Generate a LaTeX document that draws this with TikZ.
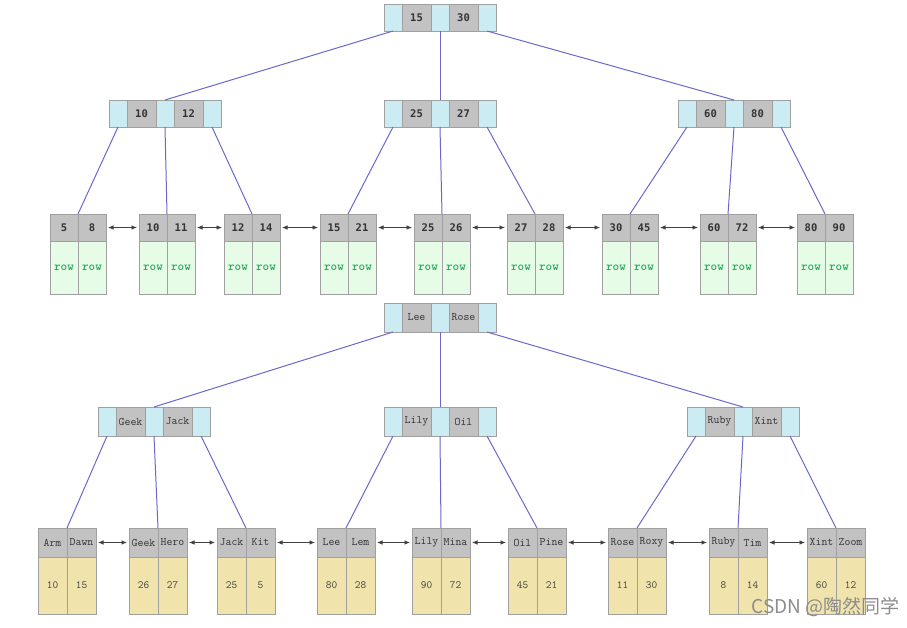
\documentclass[tikz,border=0pt]{standalone}
\usepackage{fontspec}
\newfontfamily\keyfont{DejaVu Sans Mono}
\newfontfamily\cjkfont{Noto Sans CJK SC}
\usetikzlibrary{arrows.meta}

\definecolor{ptrcyan}{RGB}{204,236,243}
\definecolor{keygray}{RGB}{194,194,194}
\definecolor{boxline}{RGB}{160,160,160}
\definecolor{rowgreen}{RGB}{230,252,230}
\definecolor{rowtext}{RGB}{40,170,90}
\definecolor{valyellow}{RGB}{240,228,172}
\definecolor{linkblue}{RGB}{105,105,205}

% inner node: name, top left corner, two keys
\newcommand{\innernode}[4]{%
  \node[ptr,anchor=north west] (#1-p0) at (#2) {};
  \node[key,anchor=north west] (#1-k1) at (#1-p0.north east) {#3};
  \node[ptr,anchor=north west] (#1-p1) at (#1-k1.north east) {};
  \node[key,anchor=north west] (#1-k2) at (#1-p1.north east) {#4};
  \node[ptr,anchor=north west] (#1-p2) at (#1-k2.north east) {};}

% leaf node: name, top left corner, two keys, two values
\newcommand{\leafnode}[6]{%
  \node[lkey,anchor=north west] (#1-k1) at (#2) {#3};
  \node[lkey,anchor=north west] (#1-k2) at (#1-k1.north east) {#4};
  \node[body,anchor=north] (#1-v1) at (#1-k1.south) {#5};
  \node[body,anchor=north] (#1-v2) at (#1-k2.south) {#6};}

\begin{document}
\begin{tikzpicture}[x=1pt,y=-1pt,
  cellh/.style={minimum height=27pt},
  keytext/.style={font=\keyfont\bfseries\fontsize{10.5}{12}\selectfont, text=black!80},
  cell/.style={draw=boxline, line width=0.7pt, inner sep=0pt, outer sep=0pt, cellh},
  ptr/.style={cell, fill=ptrcyan, minimum width=18pt},
  key/.style={cell, fill=keygray, minimum width=29pt, keytext},
  lkey/.style={cell, fill=keygray, minimum width=28pt, keytext},
  body/.style={draw=boxline, line width=0.7pt, inner sep=0pt, outer sep=0pt,
    minimum width=28pt, minimum height=53pt, fill=rowgreen, text=rowtext,
    font=\ttfamily\bfseries\fontsize{12.5}{14}\selectfont},
  link/.style={draw=linkblue, line width=1pt},
  chain/.style={draw=black!75, line width=0.7pt,
    {Latex[length=5.5pt,width=4.5pt]}-{Latex[length=5.5pt,width=4.5pt]},
    shorten <=2pt, shorten >=2pt}]
\useasboundingbox (0,0) rectangle (907,627);

% upper tree
\innernode{t}{384,4}{15}{30}
\innernode{t1}{109,100}{10}{12}
\innernode{t2}{384,100}{25}{27}
\innernode{t3}{678,100}{60}{80}

\leafnode{l1}{50,214}{5}{8}{row}{row}
\leafnode{l2}{139,214}{10}{11}{row}{row}
\leafnode{l3}{224,214}{12}{14}{row}{row}
\leafnode{l4}{320,214}{15}{21}{row}{row}
\leafnode{l5}{414,214}{25}{26}{row}{row}
\leafnode{l6}{507,214}{27}{28}{row}{row}
\leafnode{l7}{602,214}{30}{45}{row}{row}
\leafnode{l8}{700,214}{60}{72}{row}{row}
\leafnode{l9}{797,214}{80}{90}{row}{row}

\draw[link] (t-p0.south) -- (t1-p1.north);
\draw[link] (t-p1.south) -- (t2-p1.north);
\draw[link] (t-p2.south) -- (t3-p1.north);
\draw[link] (t1-p0.south) -- (l1-k1.north east);
\draw[link] (t1-p1.south) -- (l2-k1.north east);
\draw[link] (t1-p2.south) -- (l3-k1.north east);
\draw[link] (t2-p0.south) -- (l4-k1.north east);
\draw[link] (t2-p1.south) -- (l5-k1.north east);
\draw[link] (t2-p2.south) -- (l6-k1.north east);
\draw[link] (t3-p0.south) -- (l7-k1.north east);
\draw[link] (t3-p1.south) -- (l8-k1.north east);
\draw[link] (t3-p2.south) -- (l9-k1.north east);

\draw[chain] (l1-k2.east) -- (l2-k1.west);
\draw[chain] (l2-k2.east) -- (l3-k1.west);
\draw[chain] (l3-k2.east) -- (l4-k1.west);
\draw[chain] (l4-k2.east) -- (l5-k1.west);
\draw[chain] (l5-k2.east) -- (l6-k1.west);
\draw[chain] (l6-k2.east) -- (l7-k1.west);
\draw[chain] (l7-k2.east) -- (l8-k1.west);
\draw[chain] (l8-k2.east) -- (l9-k1.west);

% lower tree
\begin{scope}[cellh/.style={minimum height=29pt},
  keytext/.style={font=\ttfamily\fontsize{11.5}{13}\selectfont, text=black!80},
  lkey/.append style={minimum width=29pt},
  body/.append style={minimum width=29pt, minimum height=57pt, fill=valyellow,
    text=black!75, font=\ttfamily\fontsize{11}{13}\selectfont}]
\innernode{b}{384,303}{Lee}{Rose}
\innernode{b1}{98,407}{Geek}{Jack}
\innernode{b2}{384,407}{Lily}{Oil}
\innernode{b3}{687,407}{Ruby}{Xint}

\leafnode{m1}{38,528}{Arm}{Dawn}{10}{15}
\leafnode{m2}{129,528}{Geek}{Hero}{26}{27}
\leafnode{m3}{217,528}{Jack}{Kit}{25}{5}
\leafnode{m4}{317,528}{Lee}{Lem}{80}{28}
\leafnode{m5}{412,528}{Lily}{Mina}{90}{72}
\leafnode{m6}{508,528}{Oil}{Pine}{45}{21}
\leafnode{m7}{608,528}{Rose}{Roxy}{11}{30}
\leafnode{m8}{709,528}{Ruby}{Tim}{8}{14}
\leafnode{m9}{807,528}{Xint}{Zoom}{60}{12}
\end{scope}

\draw[link] (b-p0.south) -- (b1-p1.north);
\draw[link] (b-p1.south) -- (b2-p1.north);
\draw[link] (b-p2.south) -- (b3-p1.north);
\draw[link] (b1-p0.south) -- (m1-k1.north east);
\draw[link] (b1-p1.south) -- (m2-k1.north east);
\draw[link] (b1-p2.south) -- (m3-k1.north east);
\draw[link] (b2-p0.south) -- (m4-k1.north east);
\draw[link] (b2-p1.south) -- (m5-k1.north east);
\draw[link] (b2-p2.south) -- (m6-k1.north east);
\draw[link] (b3-p0.south) -- (m7-k1.north east);
\draw[link] (b3-p1.south) -- (m8-k1.north east);
\draw[link] (b3-p2.south) -- (m9-k1.north east);

\draw[chain] (m1-k2.east) -- (m2-k1.west);
\draw[chain] (m2-k2.east) -- (m3-k1.west);
\draw[chain] (m3-k2.east) -- (m4-k1.west);
\draw[chain] (m4-k2.east) -- (m5-k1.west);
\draw[chain] (m5-k2.east) -- (m6-k1.west);
\draw[chain] (m6-k2.east) -- (m7-k1.west);
\draw[chain] (m7-k2.east) -- (m8-k1.west);
\draw[chain] (m8-k2.east) -- (m9-k1.west);

\node[anchor=east, text=black!45, font=\cjkfont\fontsize{19}{21}\selectfont]
  (mark) at (903,607) {CSDN @陶然同学};
\end{tikzpicture}
\end{document}
